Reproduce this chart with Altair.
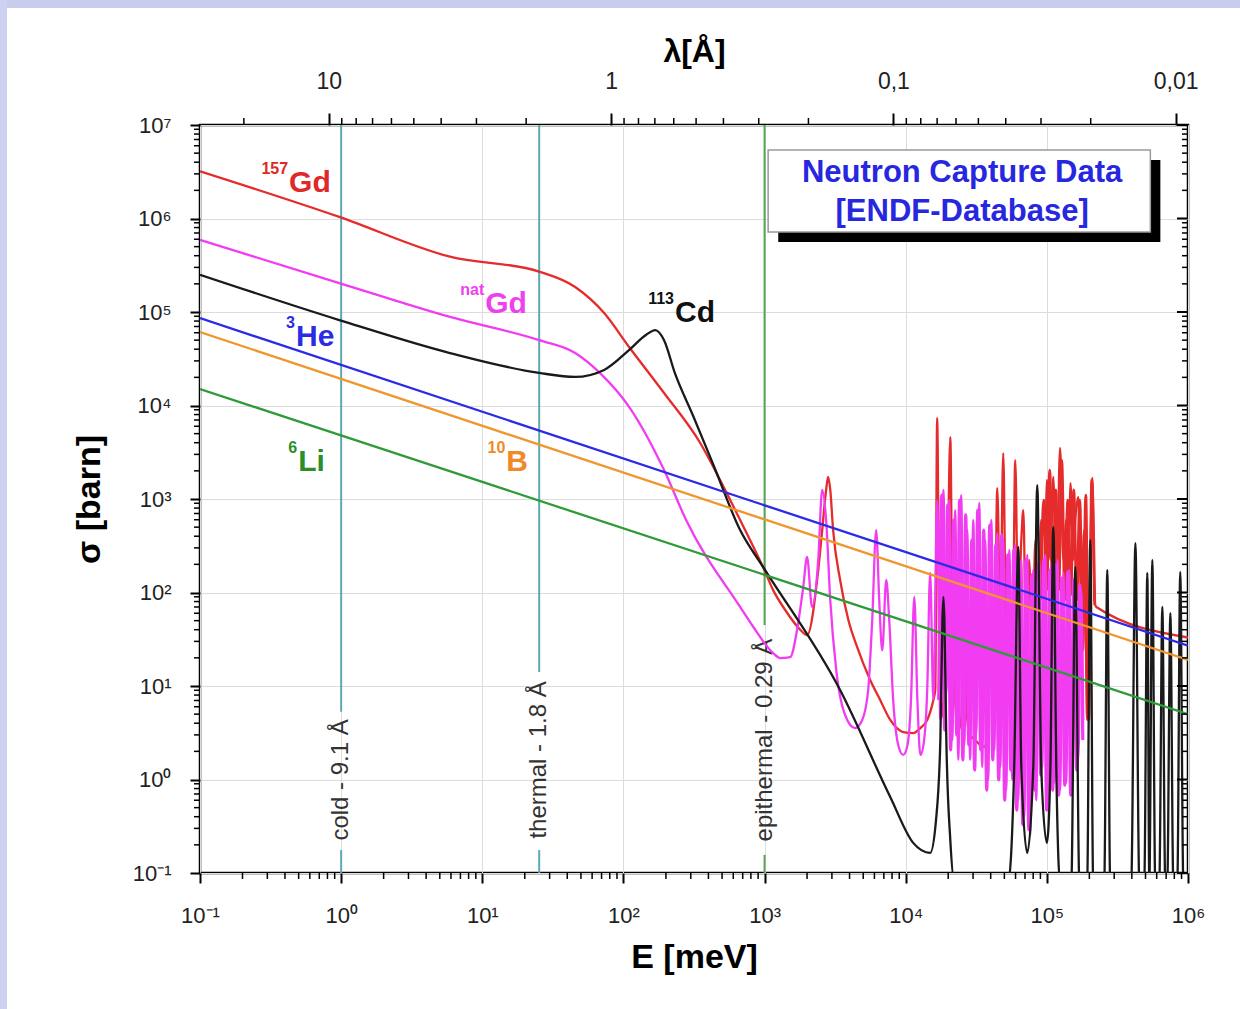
import altair as alt
import pandas as pd

W, H = 988, 748

# ---------------- data ----------------
# 1/v absorbers: straight lines on log-log axes (end points)
E_HE3 = [0.1, 1e6]
S_HE3 = [86000, 27]
E_B10 = [0.1, 1e6]
S_B10 = [61000, 19]
E_LI6 = [0.1, 1e6]
S_LI6 = [15000, 5.0]

# 157Gd (red)
E_GD157 = [0.1, 0.97, 5.9, 25.3, 45.5, 73, 110, 194, 350, 492,
           671, 994, 1150, 1400, 1790, 2000, 2400, 2560, 2730, 2820, 2920,
           3060, 3430, 3920, 4530, 5600, 6590, 7770, 9600, 1.13e4, 1.27e4,
           1.42e4, 1.57e4,
           1.62e4, 1.67e4, 1.73e4, 1.79e4, 1.88e4, 1.97e4, 2.07e4, 2.14e4, 2.24e4, 2.36e4,
           2.47e4, 2.60e4, 2.73e4, 2.86e4, 3.11e4, 3.37e4, 3.66e4, 3.84e4, 4.04e4, 4.24e4,
           4.45e4, 4.68e4, 4.91e4, 5.15e4, 5.42e4, 5.69e4, 5.97e4, 6.27e4, 6.59e4, 6.81e4,
           7.14e4, 7.50e4, 7.88e4, 8.28e4, 8.69e4, 9.12e4, 9.59e4, 1.00e5, 1.06e5, 1.11e5,
           1.17e5, 1.24e5, 1.31e5, 1.37e5, 1.42e5, 1.47e5, 1.54e5, 1.59e5, 1.67e5, 1.75e5,
           1.84e5, 1.93e5, 2.03e5, 2.10e5, 2.17e5, 2.24e5, 1e6]
S_GD157 = [3.2e6, 1.04e6, 3.9e5, 2.7e5, 1.85e5, 9.75e4, 4.2e4, 1.36e4, 3970, 1520,
           596, 175, 106, 65, 40, 35, 174, 465, 1250, 1720, 1250,
           465, 136, 51, 26, 11.6, 7.1, 4.33, 3.22, 3.14, 3.55,
           4.33, 7.1,
           9.06, 7350, 31, 7.1, 4.33, 83, 4600, 51, 7.1, 3.38,
           4.33, 83, 4.33, 2.99, 2.64, 2.34, 2.23, 7.1, 223, 7.1,
           1310, 51, 3100, 31, 223, 11.6, 2610, 51, 364, 762,
           24, 223, 9.06, 364, 51, 596, 31, 1600, 223, 1720,
           83, 3510, 223, 596, 83, 1480, 223, 596, 1050, 83,
           465, 4.33, 223, 1680, 83, 70, 33]

# 157Gd: second set of unresolved resonances (upper part of the dense region)
E_GD157_FINE = [9.05e4, 9.51e4, 9.98e4, 1.048e5, 1.10e5, 1.157e5, 1.214e5, 1.275e5, 1.34e5, 1.406e5,
                1.477e5, 1.551e5, 1.629e5, 1.711e5, 1.797e5, 1.887e5, 1.981e5, 2.08e5, 2.186e5]
S_GD157_FINE = [83, 975, 106, 2040, 83, 1250, 106, 2610, 83, 975,
                94, 1250, 83, 975, 24, 1100, 4.33, 1600, 73]

# natGd (magenta)
E_GDNAT = [0.1, 0.97, 5.9, 25.3, 45.5, 68, 110, 194, 278,
           671, 830, 1150, 1290, 1520, 1700, 1880, 2000, 2170, 2400,
           2560, 2730, 2920, 3220, 3720, 4380, 4920, 5420, 5790, 6180,
           6490, 6820, 7280, 7640, 8150, 8850, 9600, 1.03e4, 1.09e4, 1.15e4,
           1.21e4, 1.27e4, 1.35e4, 1.42e4, 1.49e4, 1.57e4,
           1.67e4, 1.76e4, 1.85e4, 1.94e4, 2.03e4, 2.14e4, 2.24e4, 2.36e4, 2.47e4, 2.60e4,
           2.73e4, 2.86e4, 3.01e4, 3.16e4, 3.32e4, 3.48e4, 3.66e4, 3.84e4, 4.04e4, 4.24e4,
           4.45e4, 4.68e4, 4.91e4, 5.15e4, 5.42e4, 5.69e4, 5.97e4, 6.27e4, 6.59e4, 6.92e4,
           7.26e4, 7.63e4, 8.01e4, 8.41e4, 8.83e4, 9.27e4, 9.75e4, 1.02e5, 1.07e5, 1.13e5,
           1.19e5, 1.24e5, 1.31e5, 1.37e5, 1.44e5, 1.51e5, 1.59e5, 1.67e5, 1.75e5, 1.81e5]
S_GDNAT = [5.9e5, 2.04e5, 8.85e4, 5.0e4, 3.64e4, 2.23e4, 9.6e3, 2040, 596,
           70, 43, 22.5, 19.9, 20.4, 40, 115, 240, 70, 223,
           1250, 596, 83, 14.8, 4.9, 3.55, 4.33, 9.06, 51, 465,
           83, 24, 136, 51, 7.1, 2.34, 1.83, 2.34, 7.1, 90,
           7.1, 1.83, 2.64, 9.06, 162, 7.1,
           975, 4.33, 1250, 8.4, 975, 2.64, 762, 1.62, 1100, 2.34,
           465, 1.62, 596, 3.14, 906, 1.36, 364, 0.99, 596, 2.07,
           432, 1.36, 364, 0.77, 285, 0.99, 322, 0.60, 223, 0.40,
           252, 0.255, 174, 0.60, 223, 1.36, 252, 0.60, 197, 0.92,
           223, 0.77, 162, 0.92, 174, 0.77, 154, 1.62, 106, 4.33]

# natGd: second set of unresolved resonances in the dense region
E_GDNAT_FINE = [1.713e4, 1.80e4, 1.89e4, 1.985e4, 2.08e4, 2.19e4, 2.30e4, 2.41e4, 2.54e4, 2.66e4,
                2.80e4, 2.94e4, 3.08e4, 3.24e4, 3.40e4, 3.57e4, 3.75e4, 3.94e4, 4.14e4, 4.34e4,
                4.56e4, 4.79e4, 5.03e4, 5.28e4, 5.55e4, 5.83e4, 6.12e4, 6.43e4, 6.75e4, 7.09e4,
                7.45e4, 7.82e4, 8.21e4, 8.62e4, 9.05e4, 9.51e4, 9.98e4, 1.048e5, 1.10e5, 1.157e5,
                1.214e5, 1.275e5, 1.34e5, 1.406e5, 1.477e5, 1.551e5, 1.629e5, 1.711e5, 1.797e5]
S_GDNAT_FINE = [7.1, 1100, 3.38, 863, 2.07, 596, 2.99, 975, 1.62, 675,
                2.34, 364, 1.26, 762, 2.07, 465, 0.77, 527, 1.62, 322,
                0.99, 412, 0.60, 252, 1.26, 285, 0.47, 197, 0.33, 223,
                0.29, 154, 0.77, 197, 1.12, 223, 0.47, 174, 0.77, 197,
                0.68, 143, 0.87, 166, 0.68, 136, 1.26, 120, 2.64]

# 113Cd (black)
E_CD113 = [0.1, 0.97, 5.9, 25.3, 45.5, 73, 110, 145, 168, 194,
           232, 312, 440, 671, 994, 3430, 7770, 1.13e4, 1.49e4, 1.64e4,
           1.76e4, 1.82e4, 1.85e4, 1.88e4, 1.94e4, 2.07e4, 2.21e4,
           5.32e4, 5.87e4, 6.27e4, 6.59e4, 7.26e4, 8.01e4, 8.55e4, 9.12e4, 1.0e5, 1.06e5,
           1.11e5, 1.17e5, 1.24e5, 1.49e5, 1.59e5, 1.70e5, 1.93e5, 2.03e5, 2.13e5, 2.55e5,
           2.68e5, 2.81e5, 3.96e5, 4.24e5, 4.52e5, 4.90e5, 5.15e5, 5.32e5, 5.59e5, 5.86e5,
           6.26e5, 6.58e5, 6.90e5, 7.13e5, 7.50e5, 7.87e5, 8.40e5, 8.81e5, 9.27e5, 1e6]
S_CD113 = [2.5e5, 8.2e4, 3.64e4, 2.23e4, 2.02e4, 2.4e4, 3.93e4, 5.7e4, 6.4e4, 5.0e4,
           2.2e4, 7730, 2200, 465, 180, 9.06, 0.65, 0.21, 0.164, 0.37,
           2.64, 51, 90, 51, 2.64, 0.225, 0.08,
           0.08, 1.36, 307, 1.36, 0.164, 1.36, 1410, 1.36, 0.21, 1.36,
           501, 1.0, 0.08, 0.08, 188, 0.08, 0.08, 364, 0.08, 0.08,
           174, 0.08, 0.08, 338, 0.08, 0.08, 162, 0.08, 223, 0.08,
           0.08, 70, 0.08, 0.08, 60, 0.08, 0.08, 166, 0.08, 0.08]

# curve labels
LABEL_E = [0.428, 10.5, 232, 0.479, 14.8, 0.496]
LABEL_S = [2.40e6, 1.22e5, 9.75e4, 5.41e4, 2490, 2490]
LABEL_MAIN = ["Gd", "Gd", "Cd", "He", "B", "Li"]
LABEL_SUP = ["157", "nat", "113", "3", "10", "6"]
LABEL_COLOR = ["#e02828", "#ee40ee", "#111111", "#2b2be6", "#f08a28", "#2a8f2a"]

# neutron energy markers
MARK_E = [1.0, 25.3, 1000]
MARK_TEXT = ["cold - 9.1 Å", "thermal - 1.8 Å", "epithermal - 0.29 Å"]
MARK_TOP_END = [5.3, 14.1, 44.9]
MARK_BOT_START = [0.176, 0.176, 0.156]
MARK_TEXT_S = [0.99, 1.62, 2.64]
MARK_COLOR = ["#5fa8b2", "#5fa8b2", "#55a555"]

# info box
BOX_E = [1060, 5.41e5]
BOX_S = [7.18e5, 5.41e6]
SHADOW_E = [1250, 6.37e5]
SHADOW_S = [5.61e5, 4.23e6]
BOX_TEXT = ["Neutron Capture Data", "[ENDF-Database]"]
BOX_TEXT_E = [2.51e4, 2.51e4]
BOX_TEXT_S = [3.07e6, 1.17e6]

# axes
E_MAJOR = [0.1, 1, 10, 100, 1e3, 1e4, 1e5, 1e6]
S_MAJOR = [0.1, 1, 10, 100, 1e3, 1e4, 1e5, 1e6, 1e7]
LAM_MAJOR = [10, 1, 0.1, 0.01]
LAM_LABELS = ["10", "1", "0,1", "0,01"]
E_PER_INV_LAM2 = 81.81  # E[meV] = 81.81 / lambda[A]^2

# ---------------- derived helpers ----------------
xs = alt.Scale(type="log", domain=[0.1, 1e6], nice=False)
ys = alt.Scale(type="log", domain=[0.1, 1e7], nice=False)

E_MINOR = [k * 10.0 ** n for n in range(-1, 6) for k in range(2, 10)]
S_MINOR = [k * 10.0 ** n for n in range(-1, 7) for k in range(2, 10)]
LAM_MINOR = [k * 10.0 ** n for n in range(-2, 2) for k in range(2, 10)]
E_LAM_MAJOR = [E_PER_INV_LAM2 / l ** 2 for l in LAM_MAJOR]
E_LAM_MINOR = [E_PER_INV_LAM2 / l ** 2 for l in LAM_MINOR]
E_LAM_MINOR = [e for e in E_LAM_MINOR if 0.1 <= e <= 1e6]

sup = "['⁻¹','⁰','¹','²','³','⁴','⁵','⁶','⁷']"
dec_expr = "'10' + " + sup + "[round(log(datum.value)/LN10) + 1]"
lam_expr = ""
for e, lab in zip(E_LAM_MAJOR, LAM_LABELS):
    lam_expr += f"datum.value < {e * 3} ? '{lab}' : "
lam_expr += "''"

FONT = "Liberation Sans"
LW = 2.3


def curve(E, S, color, width=LW):
    df = pd.DataFrame({"E": E, "s": S, "i": list(range(len(E)))})
    return alt.Chart(df).mark_line(color=color, strokeWidth=width, clip=True,
                                   interpolate="monotone").encode(
        x=alt.X("E:Q", scale=xs, axis=None),
        y=alt.Y("s:Q", scale=ys, axis=None),
        order=alt.Order("i:Q"),
    )


# axes carrier layers (one axis each)
axis_df = pd.DataFrame({"E": [1.0], "s": [1.0]})
x_bottom = alt.Chart(axis_df).mark_point(opacity=0).encode(
    x=alt.X("E:Q", scale=xs, axis=alt.Axis(
        orient="bottom", values=E_MAJOR, labelExpr=dec_expr, title="E [meV]",
        grid=True, gridColor="#dcdcdc", gridWidth=1, domain=False,
        tickSize=10, tickWidth=2, tickColor="black",
        labelFontSize=22, labelColor="#222222", labelPadding=22, labelFont=FONT,
        labelFlush=False, labelOverlap=False,
        titleFontSize=34, titleFontWeight="bold", titleColor="black", titlePadding=14,
        titleFont=FONT)),
)
y_left = alt.Chart(axis_df).mark_point(opacity=0).encode(
    y=alt.Y("s:Q", scale=ys, axis=alt.Axis(
        orient="left", values=S_MAJOR, labelExpr=dec_expr, title="σ [barn]",
        grid=True, gridColor="#dcdcdc", gridWidth=1, domain=False,
        tickSize=10, tickWidth=2, tickColor="black",
        labelFontSize=22, labelColor="#222222", labelPadding=19, labelFont=FONT,
        labelFlush=False, labelOverlap=False,
        titleFontSize=34, titleFontWeight="bold", titleColor="black", titlePadding=26,
        titleFont=FONT)),
)
x_top = alt.Chart(axis_df).mark_point(opacity=0).encode(
    x=alt.X("E:Q", scale=xs, axis=alt.Axis(
        orient="top", values=E_LAM_MAJOR, labelExpr=lam_expr, title="λ[Å]",
        grid=False, domain=False, tickSize=12, tickWidth=2, tickColor="black",
        labelFontSize=23, labelColor="#222222", labelPadding=20, labelFont=FONT,
        labelFlush=False, labelOverlap=False,
        titleFontSize=32, titleFontWeight="bold", titleColor="black", titlePadding=2,
        titleFont=FONT)),
)

# minor ticks
bottom_minor = alt.Chart(pd.DataFrame({"E": E_MINOR})).mark_rule(color="black", strokeWidth=1.5).encode(
    x=alt.X("E:Q", scale=xs, axis=None), y=alt.value(H), y2=alt.value(H + 6))
top_minor = alt.Chart(pd.DataFrame({"E": E_LAM_MINOR})).mark_rule(color="black", strokeWidth=1.5).encode(
    x=alt.X("E:Q", scale=xs, axis=None), y=alt.value(0), y2=alt.value(-7))
left_minor = alt.Chart(pd.DataFrame({"s": S_MINOR})).mark_rule(color="black", strokeWidth=1.5).encode(
    y=alt.Y("s:Q", scale=ys, axis=None), x=alt.value(0), x2=alt.value(-6))
right_minor = alt.Chart(pd.DataFrame({"s": S_MINOR})).mark_rule(color="black", strokeWidth=1.5).encode(
    y=alt.Y("s:Q", scale=ys, axis=None), x=alt.value(W - 6), x2=alt.value(W))
right_major = alt.Chart(pd.DataFrame({"s": S_MAJOR})).mark_rule(color="black", strokeWidth=2).encode(
    y=alt.Y("s:Q", scale=ys, axis=None), x=alt.value(W - 11), x2=alt.value(W))

# energy markers
mk = pd.DataFrame({"E": MARK_E, "top": MARK_TOP_END, "bot": MARK_BOT_START,
                   "ts": MARK_TEXT_S, "txt": MARK_TEXT, "c": MARK_COLOR,
                   "smax": [1e7] * 3, "smin": [0.1] * 3})
mk_top = alt.Chart(mk).mark_rule(strokeWidth=2).encode(
    x=alt.X("E:Q", scale=xs, axis=None), y=alt.Y("top:Q", scale=ys, axis=None), y2="smax:Q",
    color=alt.Color("c:N", scale=None))
mk_bot = alt.Chart(mk).mark_rule(strokeWidth=2).encode(
    x=alt.X("E:Q", scale=xs, axis=None), y=alt.Y("smin:Q", scale=ys, axis=None), y2="bot:Q",
    color=alt.Color("c:N", scale=None))
mk_text = alt.Chart(mk).mark_text(angle=270, align="center", baseline="middle", fontSize=24,
                                  color="#333333", font=FONT).encode(
    x=alt.X("E:Q", scale=xs, axis=None), y=alt.Y("ts:Q", scale=ys, axis=None), text="txt:N")

# labels
lab = pd.DataFrame({"E": LABEL_E, "s": LABEL_S, "main": LABEL_MAIN, "sup": LABEL_SUP, "c": LABEL_COLOR})
lab_main = alt.Chart(lab).mark_text(align="left", baseline="middle", fontSize=30, fontWeight="bold",
                                    font=FONT).encode(
    x=alt.X("E:Q", scale=xs, axis=None), y=alt.Y("s:Q", scale=ys, axis=None), text="main:N",
    color=alt.Color("c:N", scale=None))
lab_sup = alt.Chart(lab).mark_text(align="right", baseline="middle", fontSize=16, fontWeight="bold",
                                   dy=-14, dx=-1, font=FONT).encode(
    x=alt.X("E:Q", scale=xs, axis=None), y=alt.Y("s:Q", scale=ys, axis=None), text="sup:N",
    color=alt.Color("c:N", scale=None))

# info box
shadow = alt.Chart(pd.DataFrame({"x1": [SHADOW_E[0]], "x2": [SHADOW_E[1]], "y1": [SHADOW_S[0]], "y2": [SHADOW_S[1]]})
                   ).mark_rect(color="black").encode(
    x=alt.X("x1:Q", scale=xs, axis=None), x2="x2:Q", y=alt.Y("y1:Q", scale=ys, axis=None), y2="y2:Q")
box = alt.Chart(pd.DataFrame({"x1": [BOX_E[0]], "x2": [BOX_E[1]], "y1": [BOX_S[0]], "y2": [BOX_S[1]]})
                ).mark_rect(color="white", stroke="#9a9a9a", strokeWidth=1.5).encode(
    x=alt.X("x1:Q", scale=xs, axis=None), x2="x2:Q", y=alt.Y("y1:Q", scale=ys, axis=None), y2="y2:Q")
box_text = alt.Chart(pd.DataFrame({"E": BOX_TEXT_E, "s": BOX_TEXT_S, "t": BOX_TEXT})).mark_text(
    align="center", baseline="middle", fontSize=31, fontWeight="bold", color="#2727e0", font=FONT).encode(
    x=alt.X("E:Q", scale=xs, axis=None), y=alt.Y("s:Q", scale=ys, axis=None), text="t:N")

# slide background strips
strip_top = alt.Chart(alt.Data(values=[{}])).mark_rect(color="#c8cdee").encode(
    x=alt.value(-200), x2=alt.value(1040), y=alt.value(-125), y2=alt.value(-117))
strip_left = alt.Chart(alt.Data(values=[{}])).mark_rect(color="#cfd1f1").encode(
    x=alt.value(-200), x2=alt.value(-193), y=alt.value(-125), y2=alt.value(884))

chart = alt.layer(
    x_bottom, y_left, x_top,
    strip_top, strip_left,
    mk_top, mk_bot, mk_text,
    curve(E_GD157, S_GD157, "#e52b2b"),
    curve(E_GD157_FINE, S_GD157_FINE, "#e52b2b", 2.8),
    curve(E_GDNAT, S_GDNAT, "#f23cf2"),
    curve(E_GDNAT_FINE, S_GDNAT_FINE, "#f23cf2", 3.2),
    curve(E_CD113, S_CD113, "#1a1a1a"),
    curve(E_LI6, S_LI6, "#2f9a38"),
    curve(E_B10, S_B10, "#f0962e"),
    curve(E_HE3, S_HE3, "#2b2be6"),
    bottom_minor, top_minor, left_minor, right_minor, right_major,
    shadow, box, box_text,
    lab_main, lab_sup,
).properties(
    width=W, height=H,
    padding={"left": 200, "top": 125, "right": 52, "bottom": 136},
    autosize=alt.AutoSizeParams(type="none"),
    background="white",
).resolve_axis(x="independent", y="independent").configure(font=FONT).configure_view(
    stroke="black", strokeWidth=2.5)

chart.save("out.html", embed_options={"renderer": "svg", "actions": False})
